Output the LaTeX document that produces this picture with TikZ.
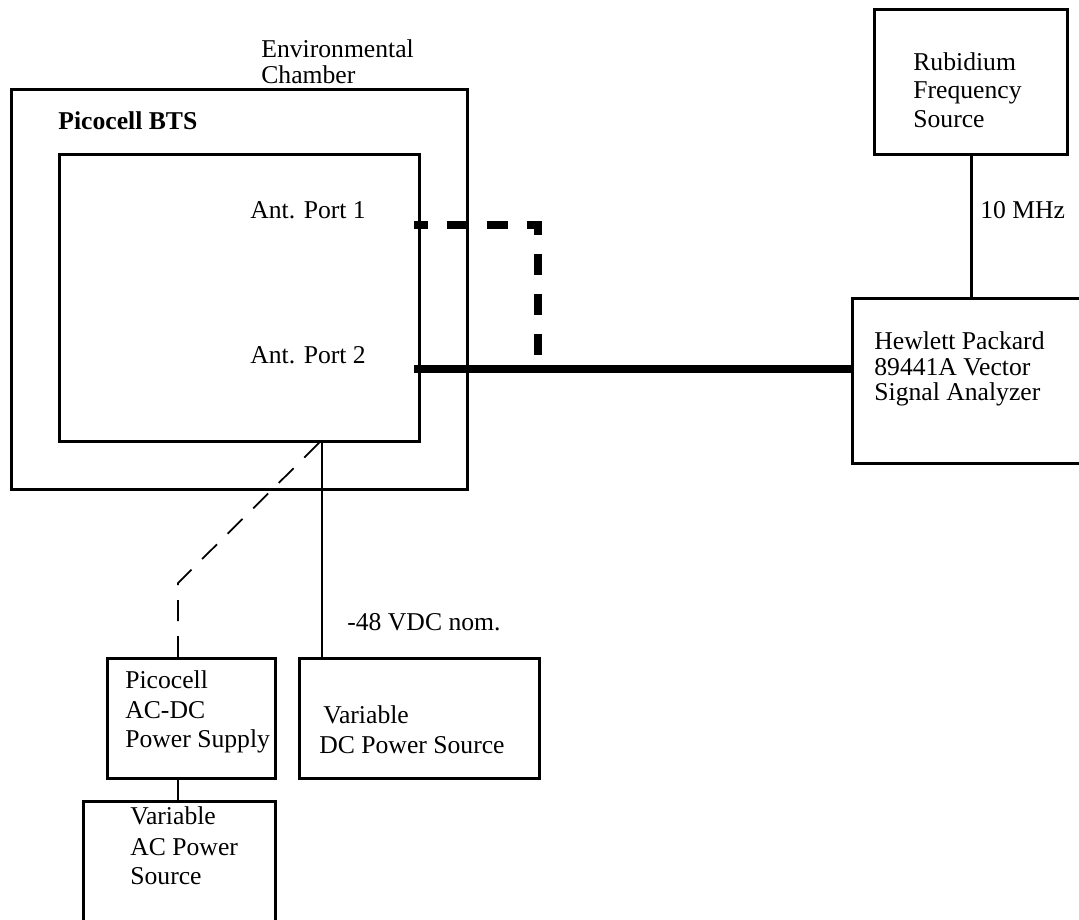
\documentclass[tikz,border=0pt]{standalone}
\usepackage{fontspec}
\setmainfont{Liberation Serif}
\begin{document}
\begin{tikzpicture}[x=0.02cm, y=-0.02cm,
  box/.style={draw, line width=1.7pt, rectangle, inner sep=0pt, anchor=north west},
  lbl/.style={inner sep=0pt, anchor=base west, font=\fontsize{14.6}{16}\selectfont},
  wire/.style={line width=1.7pt},
  acwire/.style={line width=1pt, dash pattern=on 0.42cm off 0.3cm},
  rfmain/.style={line width=4.5pt},
  rfalt/.style={line width=4pt, dash pattern=on 0.42cm off 0.38cm, dash phase=0.14cm}]
\useasboundingbox (0,0) rectangle (1079,920);
\clip (0,0) rectangle (1079,920);

% equipment boxes
\node[box, minimum width=0.02cm*456, minimum height=0.02cm*400] (chamber) at (10,88) {};
\node[box, minimum width=0.02cm*360, minimum height=0.02cm*287] (bts) at (58,153) {};
\node[box, minimum width=0.02cm*193, minimum height=0.02cm*145] (rb) at (873,8) {};
\node[box, minimum width=0.02cm*260, minimum height=0.02cm*165] (hp) at (851,297) {};
\node[box, minimum width=0.02cm*240, minimum height=0.02cm*120] (dc) at (298,657) {};
\node[box, minimum width=0.02cm*168, minimum height=0.02cm*120] (acdc) at (106,657) {};
\node[box, minimum width=0.02cm*192, minimum height=0.02cm*150] (ac) at (82,800) {};

% labels
\node[lbl] (envA) at (261,57) {Environmental};
\node[lbl] (envB) at (261,83) {Chamber};
\node[lbl, font=\fontsize{14.6}{16}\selectfont\bfseries] (btsT) at (58,129) {Picocell BTS};
\node[lbl] (port1) at (250,218) {Ant. Port 1};
\node[lbl] (port2) at (250,363) {Ant. Port 2};
\node[lbl] (rbA) at (913,70) {Rubidium};
\node[lbl] (rbB) at (913,98) {Frequency};
\node[lbl] (rbC) at (913,127) {Source};
\node[lbl] (ref) at (980,218) {10 MHz};
\node[lbl] (hpA) at (874,349) {Hewlett Packard};
\node[lbl] (hpB) at (874,375) {89441A Vector};
\node[lbl] (hpC) at (874,400) {Signal Analyzer};
\node[lbl] (vdc) at (347,630) {-48 VDC nom.};
\node[lbl] (acdcA) at (125,688) {Picocell};
\node[lbl] (acdcB) at (125,718) {AC-DC};
\node[lbl] (acdcC) at (125,747) {Power Supply};
\node[lbl] (dcA) at (323,723) {Variable};
\node[lbl] (dcB) at (319,753) {DC Power Source};
\node[lbl] (acA) at (130,824) {Variable};
\node[lbl] (acB) at (130,855) {AC Power};
\node[lbl] (acC) at (130,884) {Source};

% connection points
\coordinate (p1) at (414,225);
\coordinate (p2) at (414,369);
\coordinate (tap) at (538,369);
\coordinate (pwr) at (322,440);
\coordinate (bend) at (178,583);

% RF connections
\draw[rfmain] (p2) -- (p2 -| hp.west);
\draw[rfalt] (p1) -| (tap);

% frequency reference
\draw[wire] (rb.south -| 971,0) -- (hp.north -| 971,0);

% power connections
\draw[wire] (pwr) -- (pwr |- dc.north);
\draw[acwire] (bend |- acdc.north) -- (bend) -- (pwr);
\draw[wire] (bend |- acdc.south) -- (bend |- ac.north);
\end{tikzpicture}
\end{document}
